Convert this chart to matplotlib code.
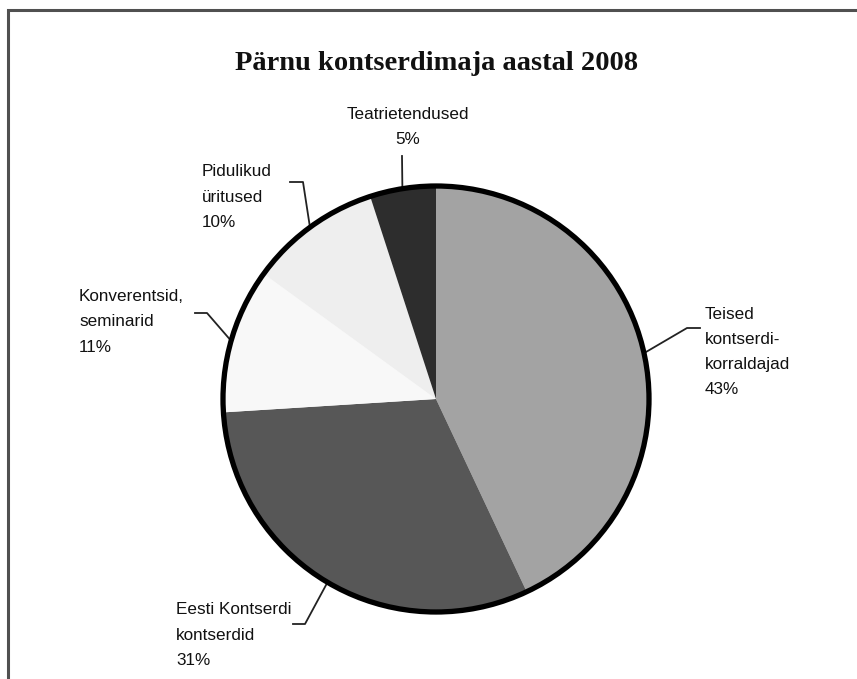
import matplotlib
matplotlib.use("Agg")
import matplotlib.pyplot as plt
import numpy as np
from matplotlib.patches import Circle

# andmed
labels = ["Teised\nkontserdi-\nkorraldajad", "Eesti Kontserdi\nkontserdid",
          "Konverentsid,\nseminarid", "Pidulikud\nüritused", "Teatrietendused"]
shares = [43, 31, 11, 10, 5]
colors = ["#a3a3a3", "#575757", "#f8f8f8", "#eeeeee", "#2d2d2d"]
title = "Pärnu kontserdimaja aastal 2008"

W, H = 857, 679
cx, cy, r = 436, 399, 213   # pildi koordinaadid (y alla)

def Y(y):
    return H - y

fig = plt.figure(figsize=(W / 100, H / 100), dpi=100)
ax = fig.add_axes([0, 0, 1, 1])

ax.pie(shares, colors=colors, startangle=90, counterclock=False,
       center=(cx, Y(cy)), radius=r, wedgeprops=dict(linewidth=0))
ax.add_patch(Circle((cx, Y(cy)), r, fill=False, ec="black", lw=3.8, zorder=5))
ax.set_xlim(0, W)
ax.set_ylim(0, H)
ax.set_aspect("equal")
ax.axis("off")

# raam (vasak ja ülemine serv)
ax.plot([8, 8, W + 5], [Y(H + 5), Y(10), Y(10)], color="#505050", lw=2.2,
        solid_joinstyle="miter", clip_on=False)

ax.text(437, Y(63), title, ha="center", va="center", fontsize=20.5,
        fontweight="bold", family="Liberation Serif", color="#111111")

# sildid: tekstipositsioon, joondus, küünarnukk, joone ots
label_pos = [(705, 352, "left"), (176, 635, "left"), (79, 322, "left"),
             (202, 197, "left"), (408, 127, "center")]
elbows = [(687, 328, 700), (305, 624, 293), (207, 313, 195),
          (303, 182, 290), (402, 156, 402)]

frac = np.cumsum([0] + shares) / sum(shares)
for i, lab in enumerate(labels):
    mid = 0.5 * (frac[i] + frac[i + 1])
    ang = np.deg2rad(90 - mid * 360)
    ex = cx + (r + 2) * np.cos(ang)
    ey = cy - (r + 2) * np.sin(ang)
    bx, by, tx = elbows[i]
    ax.plot([ex, bx, tx], [Y(ey), Y(by), Y(by)], color="#222222", lw=1.3,
            zorder=4)
    x, y, ha = label_pos[i]
    ax.text(x, Y(y), f"{lab}\n{shares[i]}%", ha=ha, va="center",
            multialignment=ha, fontsize=12.3, family="Liberation Sans",
            linespacing=1.86, color="#111111")

fig.savefig("out.png", dpi=100, facecolor="white")
